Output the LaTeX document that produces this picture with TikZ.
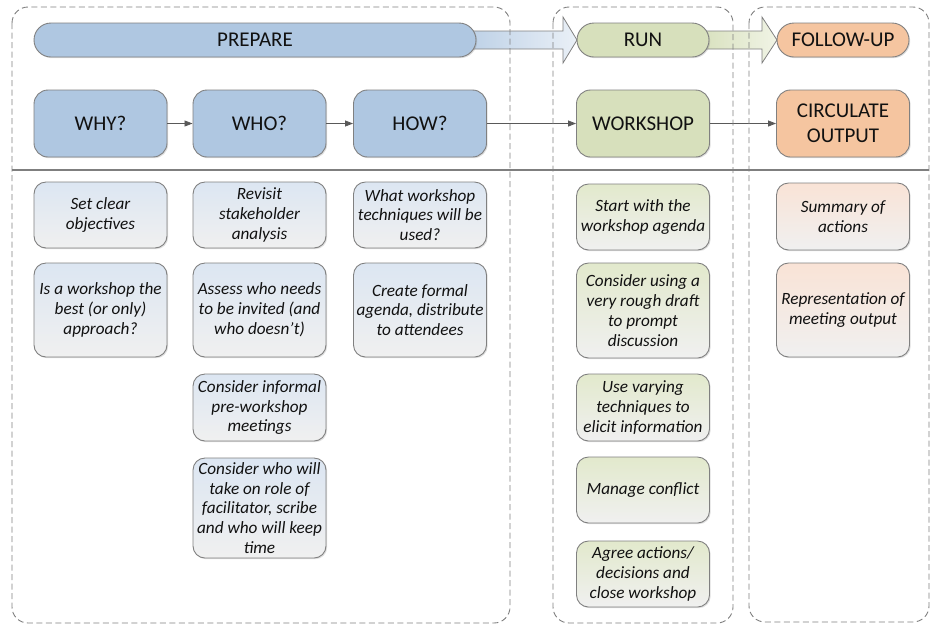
\documentclass[tikz,border=0pt]{standalone}
\usepackage{fontspec}
\setmainfont{Carlito}
\usetikzlibrary{arrows.meta,shadows,calc}
\definecolor{bordc}{HTML}{808080}
\definecolor{dashc}{HTML}{7F7F7F}
\definecolor{linec}{HTML}{595959}
\definecolor{bluef}{HTML}{AFC7E1}
\definecolor{greenf}{HTML}{D7E0BC}
\definecolor{orangef}{HTML}{F5C5A0}
\definecolor{bluet}{HTML}{DCE6F2}
\definecolor{greent}{HTML}{E2E9CC}
\definecolor{oranget}{HTML}{F9E3D6}
\definecolor{botc}{HTML}{F0F0F0}
\definecolor{txtc}{HTML}{111111}
\begin{document}
\begin{tikzpicture}[x=1pt,y=-1pt,
  shad/.style={drop shadow={opacity=0.25,shadow xshift=1.2pt,shadow yshift=-1.2pt}},
  hdr/.style={draw=bordc,line width=0.9pt,fill=#1,rounded corners=17pt,minimum height=34pt,minimum width=132pt,inner sep=1pt,text=txtc,font=\fontsize{21}{25}\selectfont,shad},
  mainbox/.style={draw=bordc,line width=0.9pt,fill=#1,rounded corners=14pt,minimum height=67pt,minimum width=133pt,inner sep=1pt,align=center,text=txtc,font=\fontsize{21}{25}\selectfont,shad},
  detail/.style={draw=bordc,line width=0.9pt,top color=#1,bottom color=botc,rounded corners=12pt,minimum width=133pt,inner sep=1pt,align=center,text=txtc,font=\fontsize{17.2}{19.8}\selectfont\itshape,shad},
  conn/.style={draw=linec,line width=0.8pt,-{Triangle[length=8pt,width=6pt]}},
  container/.style={draw=dashc,line width=0.9pt,dash pattern=on 6pt off 3.5pt,rounded corners=16pt},
  blockarr/.style={draw=bordc,line width=0.8pt}
]
\useasboundingbox (0,0) rectangle (936,625);

\coordinate (prepE) at (476,40);
\coordinate (runW) at (577,40);
\coordinate (runE) at (709,40);
\coordinate (folW) at (777,40);

% block arrows
\path[blockarr,left color=bluef!85,right color=bluet!60] ($(prepE)+(-12,-9)$) -- ($(runW)+(-14,-9)$) -- ($(runW)+(-14,-23)$) -- (runW) -- ($(runW)+(-14,23)$) -- ($(runW)+(-14,9)$) -- ($(prepE)+(-12,9)$) -- cycle;
\path[blockarr,left color=greenf,right color=greent!50] ($(runE)+(-12,-9)$) -- ($(folW)+(-15,-9)$) -- ($(folW)+(-15,-23)$) -- (folW) -- ($(folW)+(-15,23)$) -- ($(folW)+(-15,9)$) -- ($(runE)+(-12,9)$) -- cycle;

% header pills
\node[hdr=bluef,minimum width=442pt] (prep) at (255,40) {PREPARE};
\node[hdr=greenf] (run) at (643,40) {RUN};
\node[hdr=orangef] (fol) at (843,40) {FOLLOW-UP};

% main row
\node[mainbox=bluef] (why) at (100.5,123.5) {WHY?};
\node[mainbox=bluef] (who) at (259.5,123.5) {WHO?};
\node[mainbox=bluef] (how) at (420,123.5) {HOW?};
\node[mainbox=greenf] (ws) at (643,123.5) {WORKSHOP};
\node[mainbox=orangef] (circ) at (843,123.5) {CIRCULATE\\OUTPUT};

\draw[conn] (why) -- (who);
\draw[conn] (who) -- (how);
\draw[conn] (how) -- (ws);
\draw[conn] (ws) -- (circ);

% details column 1
\node[detail=bluet,minimum height=66pt] (d11) at (100.5,215) {Set clear\\objectives};
\node[detail=bluet,minimum height=94pt] (d12) at (100.5,310) {Is a workshop the\\best (or only)\\approach?};
% column 2
\node[detail=bluet,minimum height=66pt] (d21) at (259.5,215) {Revisit\\stakeholder\\analysis};
\node[detail=bluet,minimum height=94pt] (d22) at (259.5,310) {Assess who needs\\to be invited (and\\who doesn’t)};
\node[detail=bluet,minimum height=67pt] (d23) at (259.5,407.5) {Consider informal\\pre-workshop\\meetings};
\node[detail=bluet,minimum height=100pt] (d24) at (259.5,508) {Consider who will\\take on role of\\facilitator, scribe\\and who will keep\\time};
% column 3
\node[detail=bluet,minimum height=66pt] (d31) at (420,215) {What workshop\\techniques will be\\used?};
\node[detail=bluet,minimum height=94pt] (d32) at (420,310) {Create formal\\agenda, distribute\\to attendees};
% column 4
\node[detail=greent,minimum height=66pt] (d41) at (643,217) {Start with the\\workshop agenda};
\node[detail=greent,minimum height=95pt] (d42) at (643,310.5) {Consider using a\\very rough draft\\to prompt\\discussion};
\node[detail=greent,minimum height=67pt] (d43) at (643,407.5) {Use varying\\techniques to\\elicit information};
\node[detail=greent,minimum height=66pt] (d44) at (643,490) {Manage conflict};
\node[detail=greent,minimum height=66pt] (d45) at (643,574) {Agree actions/\\decisions and\\close workshop};
% column 5
\node[detail=oranget,minimum height=67pt] (d51) at (843,216.5) {Summary of\\actions};
\node[detail=oranget,minimum height=94pt] (d52) at (843,310) {Representation of\\meeting output};

% containers
\draw[container] (12,7) rectangle (510,623);
\draw[container] (553,7) rectangle (733,623);
\draw[container] (749,7) rectangle (929,622);

% divider
\draw[draw=dashc,line width=1.4pt] (12,170) -- (929,170);
\end{tikzpicture}
\end{document}
